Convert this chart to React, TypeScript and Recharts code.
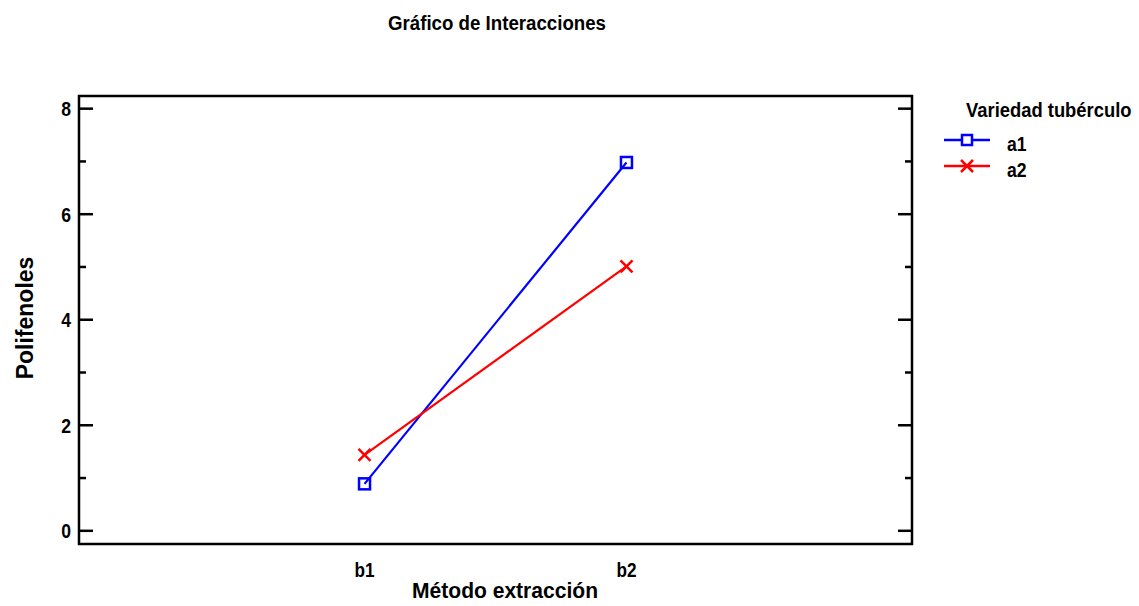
import React from 'react';
import { LineChart, Line, XAxis, YAxis, ReferenceArea, Customized } from 'recharts';

const categories = ['b1', 'b2'];
const seriesA1 = [0.89, 6.98];
const seriesA2 = [1.44, 5.01];
const seriesNames = ['a1', 'a2'];
const yTicks = [0, 1, 2, 3, 4, 5, 6, 7, 8];
const yMajorLabels = [0, 2, 4, 6, 8];
const xDomain: [number, number] = [-0.09, 3.09];
const yDomain: [number, number] = [-0.25, 8.24];

const data = categories.map((c, i) => ({ x: i + 1, cat: c, a1: seriesA1[i], a2: seriesA2[i] }));

const FONT = "'Liberation Sans', Arial, sans-serif";
const BLUE = '#0000ff';
const RED = '#ff0000';

function CText({ x, y, size, sx = 1, anchor = 'start', rotate = 0, children }: any) {
  const t = `translate(${x},${y})${rotate ? ` rotate(${rotate})` : ''} scale(${sx},1)`;
  return (
    <text transform={t} textAnchor={anchor} fontFamily={FONT} fontWeight="bold" fontSize={size} fill="#000">
      {children}
    </text>
  );
}

const LeftTick = (props: any) => {
  const { x, y, payload } = props;
  const v = payload.value;
  const major = v % 2 === 0;
  return (
    <g>
      <line x1={x} x2={x + (major ? 14 : 7)} y1={y} y2={y} stroke="#000" strokeWidth={2.5} />
      {yMajorLabels.includes(v) && (
        <CText x={x - 8} y={y + 7.5} size={20} sx={0.88} anchor="end">{String(v)}</CText>
      )}
    </g>
  );
};

const RightTick = (props: any) => {
  const { x, y, payload } = props;
  const major = payload.value % 2 === 0;
  return <line x1={x} x2={x - (major ? 14 : 7)} y1={y} y2={y} stroke="#000" strokeWidth={2.5} />;
};

const BottomTick = (props: any) => {
  const { x, y, payload } = props;
  const label = categories[payload.value - 1] ?? '';
  return <CText x={x} y={y + 33} size={19.5} sx={0.88} anchor="middle">{label}</CText>;
};

const SquareDot = (props: any) => {
  const { cx, cy } = props;
  if (cx == null || cy == null) return null;
  return <rect x={cx - 5.5} y={cy - 5.5} width={11} height={11} fill="none" stroke={BLUE} strokeWidth={2.5} />;
};

const CrossDot = (props: any) => {
  const { cx, cy } = props;
  if (cx == null || cy == null) return null;
  return (
    <g>
      <line x1={cx - 6} y1={cy - 6} x2={cx + 6} y2={cy + 6} stroke={RED} strokeWidth={2.5} />
      <line x1={cx - 6} y1={cy + 6} x2={cx + 6} y2={cy - 6} stroke={RED} strokeWidth={2.5} />
    </g>
  );
};

const Decorations = () => (
  <g>
    <CText x={497} y={30} size={21} sx={0.89} anchor="middle">Gráfico de Interacciones</CText>
    <CText x={505} y={598} size={21.5} sx={0.98} anchor="middle">Método extracción</CText>
    <CText x={33} y={318} size={23} sx={1} anchor="middle" rotate={-90}>Polifenoles</CText>
    <CText x={966} y={117} size={20} sx={0.92}>Variedad tubérculo</CText>
    <line x1={944} x2={990} y1={140} y2={140} stroke={BLUE} strokeWidth={2.5} />
    <rect x={962} y={135} width={10} height={10} fill="#fff" stroke={BLUE} strokeWidth={2.5} />
    <CText x={1007} y={151} size={20} sx={0.88}>{seriesNames[0]}</CText>
    <line x1={944} x2={990} y1={166} y2={166} stroke={RED} strokeWidth={2.5} />
    <line x1={961} y1={160} x2={973} y2={172} stroke={RED} strokeWidth={2.5} />
    <line x1={961} y1={172} x2={973} y2={160} stroke={RED} strokeWidth={2.5} />
    <CText x={1007} y={177} size={20} sx={0.88}>{seriesNames[1]}</CText>
  </g>
);

export default function App() {
  return (
    <div style={{ position: 'absolute', left: 0, top: 0, width: 1139, height: 606, background: '#fff' }}>
      <LineChart width={1139} height={606} data={data} margin={{ top: 96, right: 226, bottom: 0, left: 0 }}>
        <XAxis
          xAxisId="b"
          dataKey="x"
          type="number"
          domain={xDomain}
          allowDataOverflow
          ticks={[1, 2]}
          height={62}
          axisLine={false}
          tickLine={false}
          tickSize={0}
          tickMargin={0}
          tick={<BottomTick />}
          interval={0}
        />
        <YAxis
          yAxisId="left"
          type="number"
          domain={yDomain}
          allowDataOverflow
          ticks={yTicks}
          width={79}
          axisLine={false}
          tickLine={false}
          tickSize={0}
          tickMargin={0}
          tick={<LeftTick />}
          interval={0}
        />
        <YAxis
          yAxisId="right"
          orientation="right"
          type="number"
          domain={yDomain}
          allowDataOverflow
          ticks={yTicks}
          width={1}
          axisLine={false}
          tickLine={false}
          tickSize={0}
          tickMargin={0}
          tick={<RightTick />}
          interval={0}
        />
        <ReferenceArea
          xAxisId="b"
          yAxisId="left"
          x1={xDomain[0]}
          x2={xDomain[1]}
          y1={yDomain[0]}
          y2={yDomain[1]}
          fill="none"
          fillOpacity={0}
          stroke="#000"
          strokeWidth={2.5}
          ifOverflow="visible"
        />
        <Line
          xAxisId="b"
          yAxisId="left"
          type="linear"
          dataKey="a1"
          stroke={BLUE}
          strokeWidth={2.2}
          dot={<SquareDot />}
          activeDot={false}
          isAnimationActive={false}
        />
        <Line
          xAxisId="b"
          yAxisId="left"
          type="linear"
          dataKey="a2"
          stroke={RED}
          strokeWidth={2.2}
          dot={<CrossDot />}
          activeDot={false}
          isAnimationActive={false}
        />
        <Customized component={Decorations} />
      </LineChart>
    </div>
  );
}
